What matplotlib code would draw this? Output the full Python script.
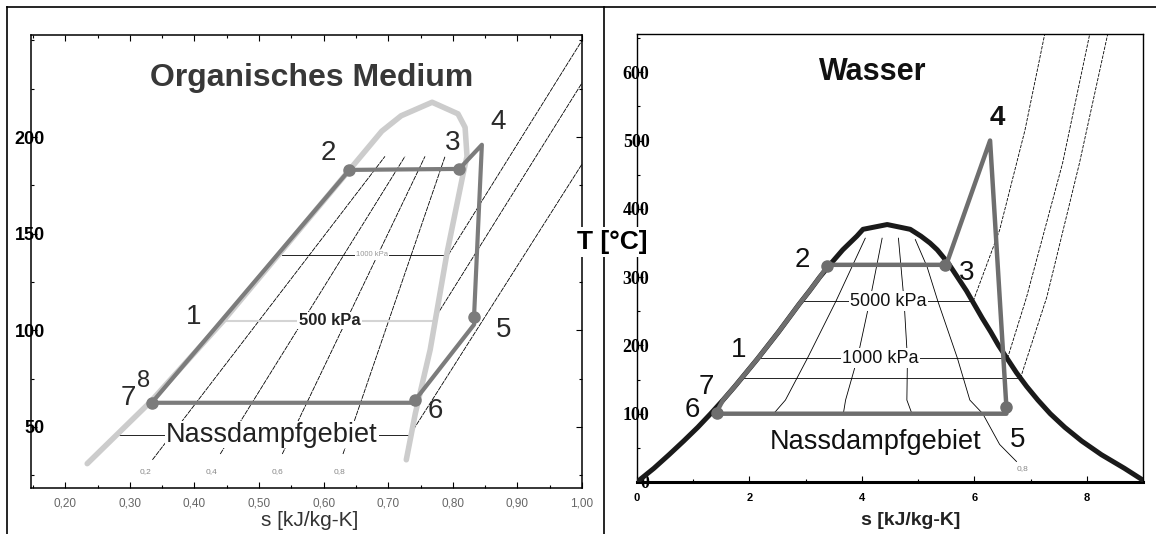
import matplotlib
matplotlib.use('Agg')

import matplotlib.pyplot as plt
from matplotlib.lines import Line2D
from matplotlib.ticker import MultipleLocator, FixedLocator, FuncFormatter

plt.rcParams['font.family'] = ['Liberation Sans', 'DejaVu Sans']

# ---------------------------
# ORGANISCHES MEDIUM (links)
# ---------------------------
org_dome_s = [0.234, 0.332, 0.445, 0.640, 0.690, 0.720, 0.768, 0.808, 0.819, 0.822, 0.816, 0.791, 0.765, 0.742, 0.728]
org_dome_T = [31, 63, 105, 183, 203, 211, 218, 212, 205, 190, 181, 140, 90, 57, 33]

# Kreisprozess 7 -> 2 -> 3 -> 4 -> 5 -> 6 -> 7
org_cyc_s = [0.334, 0.640, 0.810, 0.845, 0.833, 0.833, 0.742, 0.737, 0.334]
org_cyc_T = [62.5, 183, 183.5, 196, 108, 103, 64, 62.5, 62.5]

org_pt_s = [0.640, 0.810, 0.833, 0.742, 0.334]
org_pt_T = [183, 183.5, 107, 64, 62.5]

org_lbl = ['1', '2', '3', '4', '5', '6', '7']
org_lbl_s = [0.398, 0.607, 0.799, 0.870, 0.878, 0.773, 0.297]
org_lbl_T = [107, 192, 197, 208, 100, 58, 65]

org_yticks = [50, 100, 150, 200]

# Dampfgehaltslinien
org_q_lbl = ['0,2', '0,4', '0,6', '0,8']
org_q_s0 = [0.335, 0.440, 0.536, 0.630]
org_q_T0 = [33, 36, 36, 36]
org_q_s1 = [0.695, 0.726, 0.757, 0.788]
org_q_T1 = [190, 190, 190, 190]
org_q_lbl_s = [0.324, 0.427, 0.528, 0.624]

# Isobaren im Heissdampfgebiet
org_sh_s0 = [0.793, 0.770, 0.734]
org_sh_T0 = [139, 105, 46]
org_sh_s1 = [1.0, 1.0, 1.0]
org_sh_T1 = [250, 228, 186]

# ---------------------------
# WASSER (rechts)
# ---------------------------
w_dome_s = [0.00, 0.30, 0.57, 0.83, 1.08, 1.31, 1.53, 1.74, 1.94, 2.14, 2.33, 2.52, 2.70, 2.88,
            3.07, 3.25, 3.45, 3.66, 3.91, 4.02, 4.45, 4.86, 5.05, 5.21, 5.34, 5.54, 5.70, 5.86,
            6.00, 6.14, 6.29, 6.43, 6.59, 6.75, 6.93, 7.13, 7.35, 7.61, 7.91, 8.26, 8.67, 9.05]
w_dome_T = [0, 20, 40, 60, 80, 100, 120, 140, 160, 180, 200, 220, 240, 260,
            280, 300, 320, 340, 360, 370, 377, 370, 360, 350, 340, 320, 300, 280,
            260, 240, 220, 200, 180, 160, 140, 120, 100, 80, 60, 40, 20, 0]

w_cyc_s = [1.40, 1.53, 1.74, 1.94, 2.14, 2.33, 2.52, 2.70, 2.88, 3.07, 3.25, 3.40,
           5.50, 6.28, 6.57, 6.57, 1.40]
w_cyc_T = [100, 120, 140, 160, 180, 200, 220, 240, 260, 280, 300, 318,
           318, 500, 110, 100, 100]

w_pt_s = [3.38, 5.48, 6.57, 1.42]
w_pt_T = [316, 318, 110, 101]

w_lbl = ['1', '2', '3', '4', '5', '6', '7']
w_lbl_s = [1.81, 2.94, 5.87, 6.40, 6.77, 0.99, 1.24]
w_lbl_T = [193, 325, 306, 533, 61, 105, 139]

# Dampfgehaltslinien
w_q02_s = [4.06, 3.54, 3.03, 2.64, 2.43]
w_q02_T = [357, 265, 181, 120, 100]
w_q04_s = [4.36, 4.14, 3.92, 3.71, 3.67]
w_q04_T = [357, 265, 181, 120, 100]
w_q06_s = [4.65, 4.75, 4.81, 4.80, 4.89]
w_q06_T = [357, 265, 181, 120, 100]
w_q08_s = [4.95, 5.16, 5.35, 5.70, 5.92, 6.15, 6.45, 6.75]
w_q08_T = [355, 315, 265, 181, 120, 100, 55, 30]

# Isobaren: Nassdampf (horizontal) und Heissdampf
w_p_lbl = ['5000 kPa', '1000 kPa', '']
w_p_T = [265, 181, 152]
w_p_s0 = [2.94, 2.20, 1.90]
w_p_s1 = [5.98, 6.59, 6.82]
w_p_lbl_s = [4.47, 4.33, 0]

w_sh5000_s = [5.98, 6.45, 6.90, 7.25]
w_sh5000_T = [265, 369, 515, 655]
w_sh1000_s = [6.59, 6.93, 7.57, 8.05]
w_sh1000_T = [181, 271, 467, 655]
w_sh500_s = [6.82, 7.29, 7.87, 8.37]
w_sh500_T = [152, 271, 467, 655]

# ---------------------------
# FIGUR
# ---------------------------
W, H = 1156, 534
fig = plt.figure(figsize=(W / 100, H / 100), dpi=100)

ax1 = fig.add_axes([31 / W, 1 - 488 / H, 551 / W, 453 / H])
ax2 = fig.add_axes([637 / W, 1 - 482 / H, 506 / W, 448 / H])

# Rahmen
for xs, ys in [([7 / W, 7 / W], [0, 1 - 7 / H]),
               ([7 / W, 1], [1 - 7 / H, 1 - 7 / H]),
               ([604 / W, 604 / W], [0, 1 - 7 / H])]:
    fig.add_artist(Line2D(xs, ys, color='black', lw=1.2))

thin = dict(color='black', lw=0.6)
dash = (0, (6, 1))
white = dict(facecolor='white', edgecolor='none', pad=1)

# ---------------------------
# LINKS
# ---------------------------
ax1.set_xlim(0.147, 1.0)
ax1.set_ylim(18.4, 252.8)

for s0, T0, s1, T1 in zip(org_q_s0, org_q_T0, org_q_s1, org_q_T1):
    ax1.plot([s0, s1], [T0, T1], ls=dash, zorder=1, **thin)
for s, lbl in zip(org_q_lbl_s, org_q_lbl):
    ax1.text(s, 27, lbl, fontsize=6, color='#888888', ha='center', va='center')
for s0, T0, s1, T1 in zip(org_sh_s0, org_sh_T0, org_sh_s1, org_sh_T1):
    ax1.plot([s0, s1], [T0, T1], ls=dash, zorder=1, **thin)

ax1.plot([0.536, 0.793], [139, 139], zorder=1, **thin)
ax1.text(0.675, 139, '1000 kPa', fontsize=5.5, color='#999999', ha='center', va='center',
         bbox=white, zorder=2)
ax1.plot([0.445, 0.770], [105, 105], color='#d4d4d4', lw=1.5, zorder=1)
ax1.text(0.609, 105, '500 kPa', fontsize=12, fontweight='bold', color='#222222',
         ha='center', va='center', bbox=white, zorder=2)
ax1.plot([0.277, 0.734], [46, 46], zorder=1, **thin)
ax1.text(0.520, 46, 'Nassdampfgebiet', fontsize=19.5, color='#222222',
         ha='center', va='center', bbox=dict(facecolor='white', edgecolor='none', pad=0.5),
         zorder=2)

ax1.plot(org_dome_s, org_dome_T, color='#cccccc', lw=4, solid_capstyle='round',
         solid_joinstyle='round', zorder=4)
ax1.plot(org_cyc_s, org_cyc_T, color='#7c7c7c', lw=3, solid_joinstyle='round', zorder=5)
ax1.plot(org_pt_s, org_pt_T, 'o', color='#7c7c7c', ms=8, zorder=6)

for lbl, s, T in zip(org_lbl, org_lbl_s, org_lbl_T):
    ax1.text(s, T, lbl, fontsize=20, color='#2a2a2a', ha='center', va='center', zorder=7)
ax1.text(0.321, 74, '8', fontsize=17, color='#2a2a2a', ha='center', va='center', zorder=7)

ax1.text(0.582, 230.5, 'Organisches Medium', fontsize=23, fontweight='bold', color='#383838',
         ha='center', va='center')

ax1.xaxis.set_major_locator(MultipleLocator(0.1))
ax1.xaxis.set_minor_locator(MultipleLocator(0.05))
ax1.yaxis.set_major_locator(FixedLocator(org_yticks))
ax1.yaxis.set_minor_locator(MultipleLocator(25))
ax1.xaxis.set_major_formatter(FuncFormatter(lambda v, p: f'{v:.2f}'.replace('.', ',')))
ax1.tick_params(which='both', direction='in', top=True, right=True, width=0.8)
ax1.tick_params(which='major', length=4)
ax1.tick_params(which='minor', length=2.5)
ax1.tick_params(axis='x', labelsize=8.5, labelcolor='#666666', pad=7)
ax1.tick_params(axis='y', labelsize=13, pad=-10)
for t in ax1.get_yticklabels():
    t.set_fontweight('bold')
for sp in ax1.spines.values():
    sp.set_linewidth(1.1)
ax1.set_xlabel('s [kJ/kg-K]', fontsize=15, color='#333333')
ax1.xaxis.set_label_coords(0.506, -0.05)

# ---------------------------
# RECHTS
# ---------------------------
ax2.set_xlim(0, 9.0)
ax2.set_ylim(0, 656)

for qs, qT in [(w_q02_s, w_q02_T), (w_q04_s, w_q04_T), (w_q06_s, w_q06_T), (w_q08_s, w_q08_T)]:
    ax2.plot(qs, qT, zorder=1, **thin)
ax2.text(6.86, 19, '0,8', fontsize=6, color='#888888', ha='center', va='center')

for lbl, T, s0, s1, sl in zip(w_p_lbl, w_p_T, w_p_s0, w_p_s1, w_p_lbl_s):
    ax2.plot([s0, s1], [T, T], zorder=1, **thin)
    if lbl:
        ax2.text(sl, T, lbl, fontsize=13, color='#111111', ha='center', va='center',
                 bbox=white, zorder=2)

for ss, sT in [(w_sh5000_s, w_sh5000_T), (w_sh1000_s, w_sh1000_T), (w_sh500_s, w_sh500_T)]:
    ax2.plot(ss, sT, ls=(0, (4, 1.5)), zorder=1, **thin)

ax2.plot(w_dome_s, w_dome_T, color='#1a1a1a', lw=3.6, solid_joinstyle='round', zorder=4)
ax2.plot(w_cyc_s, w_cyc_T, color='#6e6e6e', lw=3.2, solid_joinstyle='round', zorder=5)
ax2.plot(w_pt_s, w_pt_T, 'o', color='#6e6e6e', ms=8, zorder=6)

for lbl, s, T in zip(w_lbl, w_lbl_s, w_lbl_T):
    ax2.text(s, T, lbl, fontsize=20, color='#111111', ha='center', va='center', zorder=7,
             fontweight='bold' if lbl == '4' else 'normal')

ax2.text(4.20, 600, 'Wasser', fontsize=22, fontweight='bold', color='#111111',
         ha='center', va='center')
ax2.text(4.24, 59, 'Nassdampfgebiet', fontsize=19.5, color='#111111',
         ha='center', va='center')

ax2.xaxis.set_major_locator(MultipleLocator(2))
ax2.xaxis.set_minor_locator(MultipleLocator(1))
ax2.yaxis.set_major_locator(MultipleLocator(100))
ax2.yaxis.set_minor_locator(MultipleLocator(50))
ax2.tick_params(which='both', direction='in', width=0.8)
ax2.tick_params(which='major', length=4)
ax2.tick_params(which='minor', length=2.5)
ax2.tick_params(axis='x', labelsize=8, pad=8)
ax2.tick_params(axis='y', labelsize=13, pad=-9)
for t in ax2.get_xticklabels():
    t.set_fontweight('bold')
for t in ax2.get_yticklabels():
    t.set_fontweight('bold')
    t.set_family(['Liberation Serif', 'DejaVu Serif'])
for sp in ax2.spines.values():
    sp.set_linewidth(1.0)
ax2.spines['bottom'].set_linewidth(2.2)
ax2.set_xlabel('s [kJ/kg-K]', fontsize=14, fontweight='bold', color='#222222')
ax2.xaxis.set_label_coords(0.54, -0.068)

# gemeinsame Achsenbeschriftung
fig.text(612 / W, 1 - 242 / H, 'T [°C]', fontsize=19, fontweight='bold', ha='center',
         va='center', bbox=dict(facecolor='white', edgecolor='none', pad=2), zorder=10)

fig.savefig('out.png', dpi=100)
